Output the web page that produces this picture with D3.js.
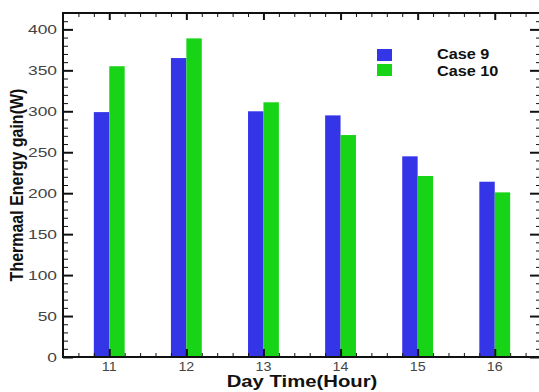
<!DOCTYPE html>
<html>
<head>
<meta charset="utf-8">
<script src="https://cdn.jsdelivr.net/npm/d3@7"></script>
<style>
  html, body { margin: 0; padding: 0; background: #fff; overflow: hidden; }
  svg { display: block; }
</style>
</head>
<body>
<svg id="chart" width="539" height="392"></svg>
<script>
// values
var hours = [11, 12, 13, 14, 15, 16];
var case9 = [299, 365, 300, 295, 245, 214];
var case10 = [355, 389, 311, 271, 221, 201];
var seriesNames = ["Case 9", "Case 10"];
var yTicks = [0, 50, 100, 150, 200, 250, 300, 350, 400];

var colors = ["#3535e8", "#17d417"];
var font = "'Liberation Sans', Arial, sans-serif";

// draws text stretched sideways, the picture's text is wider than plain Arial
function label(g, txt, x, y, size, sx, anchor, weight, fill) {
	return g.append("text")
		.attr("transform", `translate(${x},${y}) scale(${sx},1)`)
		.attr("text-anchor", anchor)
		.attr("font-family", font)
		.attr("font-size", size)
		.attr("font-weight", weight)
		.attr("fill", fill)
		.text(txt);
}

function barChart(svgElem) {
	const svg = d3.select(svgElem);
	const margin = {top: 13, right: -2, bottom: 35, left: 63};
	const width = +svg.attr("width"), height = +svg.attr("height");

	const x = d3.scaleLinear()
		.domain([10.4, 16.6])
		.range([margin.left, width - margin.right]);

	const y = d3.scaleLinear()
		.domain([0, 420])
		.range([height - margin.bottom, margin.top]);

	const bw = x(10.6) - x(10.4);

	// bars
	svg.append("g").attr("fill", colors[0])
		.selectAll("rect").data(hours).enter()
		.append("rect")
		.attr("x", (d, i) => x(d) - bw)
		.attr("y", (d, i) => y(case9[i]))
		.attr("width", bw)
		.attr("height", (d, i) => y(0) - y(case9[i]));

	svg.append("g").attr("fill", colors[1])
		.selectAll("rect").data(hours).enter()
		.append("rect")
		.attr("x", d => x(d))
		.attr("y", (d, i) => y(case10[i]))
		.attr("width", bw)
		.attr("height", (d, i) => y(0) - y(case10[i]));

	const x0 = x.range()[0], x1 = x.range()[1];
	const y0 = y.range()[0], y1 = y.range()[1];
	const minorX = d3.range(104, 166).map(v => v / 10).filter(v => Math.round(v * 10) % 2 === 0 && v % 1 !== 0);
	const minorY = d3.range(10, 420, 10).filter(v => v % 50 !== 0);

	// axes, ticks pointing into the frame
	const axes = svg.append("g").attr("stroke", "#111");
	axes.append("g").attr("transform", `translate(0,${y0})`)
		.call(d3.axisTop(x).tickValues(hours).tickSize(8).tickFormat(""))
		.call(g => g.select(".domain").remove())
		.selectAll("line").attr("stroke-width", 2);
	axes.append("g").attr("transform", `translate(0,${y0})`)
		.call(d3.axisTop(x).tickValues(minorX).tickSize(4).tickFormat(""))
		.call(g => g.select(".domain").remove());
	axes.append("g").attr("transform", `translate(0,${y1})`)
		.call(d3.axisBottom(x).tickValues(hours).tickSize(7).tickFormat(""))
		.call(g => g.select(".domain").remove())
		.selectAll("line").attr("stroke-width", 2);
	axes.append("g").attr("transform", `translate(0,${y1})`)
		.call(d3.axisBottom(x).tickValues(minorX).tickSize(4).tickFormat(""))
		.call(g => g.select(".domain").remove());
	axes.append("g").attr("transform", `translate(${x0},0)`)
		.call(d3.axisRight(y).tickValues(yTicks).tickSize(10).tickFormat(""))
		.call(g => g.select(".domain").remove())
		.selectAll("line").attr("stroke-width", 2);
	axes.append("g").attr("transform", `translate(${x0},0)`)
		.call(d3.axisRight(y).tickValues(minorY).tickSize(5).tickFormat(""))
		.call(g => g.select(".domain").remove());
	axes.append("g").attr("transform", `translate(${x1},0)`)
		.call(d3.axisLeft(y).tickValues(yTicks).tickSize(11).tickFormat(""))
		.call(g => g.select(".domain").remove())
		.selectAll("line").attr("stroke-width", 2);
	axes.append("g").attr("transform", `translate(${x1},0)`)
		.call(d3.axisLeft(y).tickValues(minorY).tickSize(5).tickFormat(""))
		.call(g => g.select(".domain").remove());
	axes.selectAll(".tick line").attr("stroke", "#111");

	// frame
	svg.append("rect")
		.attr("x", x0).attr("y", y1)
		.attr("width", x1 - x0).attr("height", y0 - y1)
		.attr("fill", "none").attr("stroke", "#111").attr("stroke-width", 2);

	// tick labels
	const lab = svg.append("g");
	yTicks.forEach(v => label(lab, v, x0 - 6, y(v) + 4.5, 12, 1.45, "end", "normal", "#444"));
	hours.forEach(h => label(lab, h, x(h), y0 + 13.5, 13, 1.1, "middle", "normal", "#444"));

	// titles
	label(svg, "Day Time(Hour)", (x0 + 541) / 2 - 0, 387, 16, 1.27, "middle", "bold", "#111");
	svg.append("text")
		.attr("transform", `translate(23,${(y0 + y1) / 2}) rotate(-90) scale(1,1.2)`)
		.attr("text-anchor", "middle")
		.attr("font-family", font)
		.attr("font-size", 16)
		.attr("font-weight", "bold")
		.attr("fill", "#111")
		.text("Thermaal Energy gain(W)");

	// legend
	const leg = svg.append("g");
	seriesNames.forEach((n, i) => {
		leg.append("rect")
			.attr("x", 377).attr("y", 49 + i * 15)
			.attr("width", 15).attr("height", 12)
			.attr("fill", colors[i]);
		label(leg, n, 437, 59 + i * 16.5, 14, 1.16, "start", "bold", "#111");
	});

	return svg.node();
}

barChart(document.getElementById("chart"));
</script>
</body>
</html>
